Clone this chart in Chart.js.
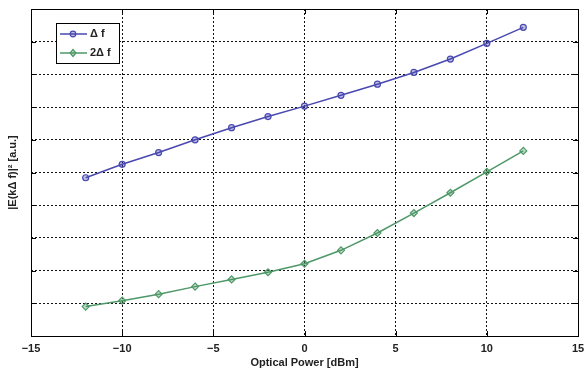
<!DOCTYPE html>
<html><head><meta charset="utf-8">
<script src="https://cdn.jsdelivr.net/npm/chart.js@4"></script>
<style>html,body{margin:0;padding:0;background:#fff}#wrap{width:585px;height:370px}</style>
</head><body><div id="wrap"><canvas id="c" width="585" height="370"></canvas></div>
<script>
const xValues = [-12,-10,-8,-6,-4,-2,0,2,4,6,8,10,12];
const deltaF = [4.84,5.25,5.61,6.0,6.37,6.71,7.03,7.36,7.70,8.06,8.47,8.95,9.44];
const twoDeltaF = [0.90,1.08,1.28,1.51,1.73,1.95,2.21,2.62,3.15,3.76,4.38,5.02,5.66];
const xTicks = [-15,-10,-5,0,5,10,15];
const seriesNames = ['\u0394 f','2\u0394 f'];
const xTitle = 'Optical Power [dBm]';
const yTitle = '|E(k\u0394 f)|\u00B2 [a.u.]';

const BLUE = '#4848b0';
const GREEN = '#4e9868';
const FONT = '"Liberation Sans", Arial, sans-serif';

const framePlugin = {
  id: 'frame',
  afterDraw(chart) {
    const {ctx, chartArea: a, scales} = chart;
    ctx.save();
    ctx.strokeStyle = '#000';
    ctx.lineWidth = 1;
    ctx.setLineDash([]);
    ctx.strokeRect(Math.round(a.left)+0.5, Math.round(a.top)+0.5, Math.round(a.right-a.left), Math.round(a.bottom-a.top));
    ctx.beginPath();
    scales.x.ticks.forEach(t => {
      const px = Math.round(scales.x.getPixelForValue(t.value))+0.5;
      ctx.moveTo(px, a.bottom); ctx.lineTo(px, a.bottom-5);
      ctx.moveTo(px, a.top); ctx.lineTo(px, a.top+5);
    });
    scales.y.ticks.forEach(t => {
      const py = Math.round(scales.y.getPixelForValue(t.value))+0.5;
      ctx.moveTo(a.left, py); ctx.lineTo(a.left+5, py);
      ctx.moveTo(a.right, py); ctx.lineTo(a.right-5, py);
    });
    ctx.stroke();
    // legend
    const bx = 56, by = 23, bw = 63, bh = 40;
    ctx.fillStyle = '#fff';
    ctx.fillRect(bx, by, bw, bh);
    ctx.strokeStyle = '#000';
    ctx.strokeRect(bx+0.5, by+0.5, bw, bh);
    const items = [[seriesNames[0], BLUE, 'circle'], [seriesNames[1], GREEN, 'diamond']];
    items.forEach((it, i) => {
      const y = by + 11 + i*19;
      ctx.strokeStyle = it[1];
      ctx.lineWidth = 1.5;
      ctx.beginPath(); ctx.moveTo(bx+4, y); ctx.lineTo(bx+31, y); ctx.stroke();
      ctx.lineWidth = 1.2;
      ctx.beginPath();
      if (it[2] === 'circle') { ctx.arc(bx+17, y, 2.8, 0, Math.PI*2); }
      else { ctx.moveTo(bx+17, y-3.5); ctx.lineTo(bx+20, y); ctx.lineTo(bx+17, y+3.5); ctx.lineTo(bx+14, y); ctx.closePath(); }
      ctx.fillStyle = it[1] === BLUE ? 'rgba(72,72,176,0.35)' : 'rgba(78,152,104,0.35)';
      ctx.fill(); ctx.stroke();
      ctx.fillStyle = '#222';
      ctx.font = 'bold 11px ' + FONT;
      ctx.textBaseline = 'middle';
      ctx.textAlign = 'left';
      ctx.fillText(it[0], bx+34, y);
    });
    ctx.restore();
  }
};

new Chart(document.getElementById('c'), {
  type: 'line',
  data: {
    labels: xValues,
    datasets: [
      { label: seriesNames[0], data: xValues.map((x,i)=>({x, y: deltaF[i]})), borderColor: BLUE, backgroundColor: 'rgba(72,72,176,0.35)', borderWidth: 1.5, pointStyle: 'circle', pointRadius: 3, pointBorderWidth: 1.2, pointBorderColor: BLUE, tension: 0 },
      { label: seriesNames[1], data: xValues.map((x,i)=>({x, y: twoDeltaF[i]})), borderColor: GREEN, backgroundColor: 'rgba(78,152,104,0.35)', borderWidth: 1.5, pointStyle: 'rectRot', pointRadius: 3.5, pointBorderWidth: 1.2, pointBorderColor: GREEN, tension: 0 }
    ]
  },
  options: {
    responsive: false,
    animation: false,
    layout: { padding: { left: 0, right: 0, top: 9, bottom: 0 } },
    plugins: { legend: { display: false }, tooltip: { enabled: false } },
    scales: {
      x: {
        type: 'linear', min: -15, max: 15,
        afterBuildTicks: s => { s.ticks = xTicks.map(v => ({value: v})); },
        afterFit: s => { s.height = 34; s.paddingRight = 7; },
        border: { display: false, dash: [2,2] },
        grid: { drawTicks: false, color: ctx => (ctx.tick && (ctx.tick.value === -15 || ctx.tick.value === 15)) ? 'rgba(0,0,0,0)' : '#111', lineWidth: 1 },
        ticks: { padding: 6, color: '#222', font: { family: FONT, size: 11, weight: 'bold' }, callback: v => String(v).replace('-', '\u2212'), maxRotation: 0 },
        title: { display: true, text: xTitle, color: '#222', font: { family: FONT, size: 11, weight: 'bold' }, padding: { top: 0, bottom: 0 } }
      },
      y: {
        type: 'linear', min: 0, max: 10,
        afterBuildTicks: s => { s.ticks = [1,2,3,4,5,6,7,8,9].map(v => ({value: v})); },
        afterFit: s => { s.width = 31; },
        border: { display: false, dash: [2,2] },
        grid: { drawTicks: false, color: '#111', lineWidth: 1 },
        ticks: { display: false },
        title: { display: true, text: yTitle, color: '#222', font: { family: FONT, size: 11, weight: 'bold' }, padding: { top: 6, bottom: 0 } }
      }
    }
  },
  plugins: [framePlugin]
});
</script></body></html>
